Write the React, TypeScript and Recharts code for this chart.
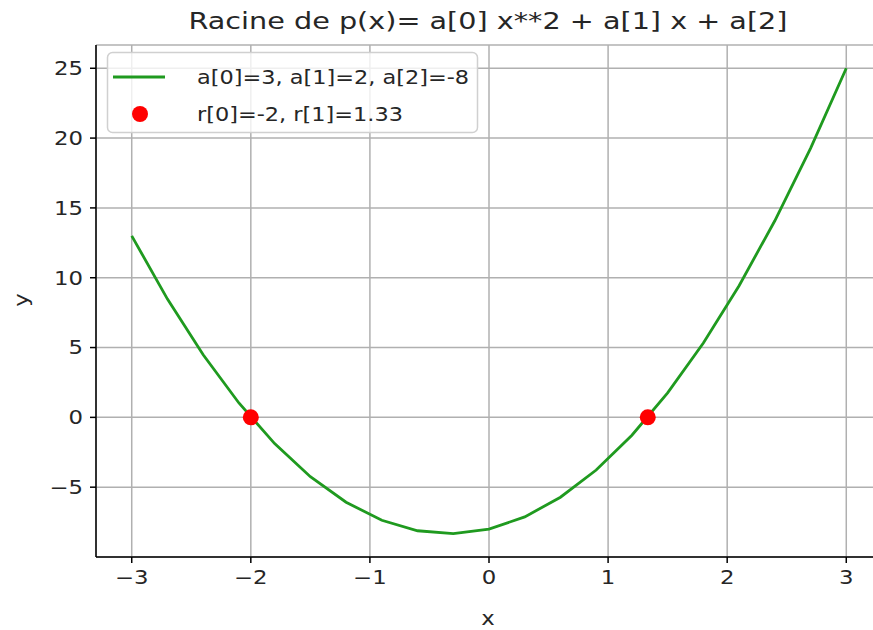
import React from "react";
import {
  ComposedChart,
  Line,
  Scatter,
  XAxis,
  YAxis,
  CartesianGrid,
} from "recharts";

// Sampled polynomial curve (21 samples from -3 to 3)
const xValues = [-3, -2.7, -2.4, -2.1, -1.8, -1.5, -1.2, -0.9, -0.6, -0.3, 0, 0.3, 0.6, 0.9, 1.2, 1.5, 1.8, 2.1, 2.4, 2.7, 3];
const yValues = [13, 8.47, 4.48, 1.03, -1.88, -4.25, -6.08, -7.37, -8.12, -8.33, -8, -7.13, -5.72, -3.77, -1.28, 1.75, 5.32, 9.43, 14.08, 19.27, 25];

// Roots of the polynomial
const rootX = [-2, 1.3333];
const rootY = [0, 0];

const xTicks = [-3, -2, -1, 0, 1, 2, 3];
const yTicks = [-5, 0, 5, 10, 15, 20, 25];

const titleText = "Racine de p(x)= a[0] x**2 + a[1] x + a[2]";
const curveLabel = "a[0]=3, a[1]=2, a[2]=-8";
const rootsLabel = "r[0]=-2, r[1]=1.33";

const curveData = xValues.map((x, i) => ({ x, y: yValues[i] }));
const rootData = rootX.map((x, i) => ({ x, y: rootY[i] }));

const FONT = "DejaVu Sans, sans-serif";
const TEXT = "#262626";
const GREEN = "#1f9a1f";
const STRETCH = 1.2;
const fmt = (v: number) => (v < 0 ? "\u2212" + Math.abs(v) : String(v));

// Horizontally widened text drawn at (x, y)
const WideText = ({ x, y, anchor, size, children, dy, sx }: any) => (
  <text
    transform={`translate(${x},${y}) scale(${sx ?? STRETCH},1)`}
    x={0}
    y={0}
    dy={dy}
    textAnchor={anchor}
    fontSize={size}
    fontFamily={FONT}
    fill={TEXT}
  >
    {children}
  </text>
);

const XTick = (props: any) => {
  const { x, y, payload } = props;
  return (
    <WideText x={x} y={y + 2} anchor="middle" size={19} dy="0.71em">
      {fmt(payload.value)}
    </WideText>
  );
};

const YTick = (props: any) => {
  const { x, y, payload } = props;
  return (
    <WideText x={x} y={y} anchor="end" size={19} dy="0.36em">
      {fmt(payload.value)}
    </WideText>
  );
};

const RootDot = (props: any) => {
  const { cx, cy } = props;
  return <circle cx={cx} cy={cy} r={8} fill="#ff0000" />;
};

export default function App() {
  return (
    <div
      style={{
        position: "absolute",
        left: 0,
        top: 0,
        width: 873,
        height: 630,
        overflow: "hidden",
        background: "#ffffff",
        fontFamily: FONT,
      }}
    >
      <ComposedChart
        width={900}
        height={630}
        margin={{ top: 45, right: 18, bottom: 33, left: 0 }}
        style={{ fontFamily: FONT }}
      >
        <CartesianGrid stroke="#b0b0b0" strokeWidth={1.5} />
        <XAxis
          dataKey="x"
          type="number"
          domain={[-3.3, 3.3]}
          ticks={xTicks}
          allowDataOverflow
          height={40}
          stroke="#000"
          strokeWidth={1.5}
          tickSize={6}
          tickMargin={6}
          tick={<XTick />}
        />
        <XAxis
          xAxisId="top"
          orientation="top"
          type="number"
          domain={[-3.3, 3.3]}
          height={0}
          tick={false}
          tickLine={false}
          stroke="#000"
          strokeWidth={1.5}
        />
        <YAxis
          dataKey="y"
          type="number"
          domain={[-10, 26.667]}
          ticks={yTicks}
          allowDataOverflow
          width={96}
          stroke="#000"
          strokeWidth={1.5}
          tickSize={6}
          tickMargin={7}
          tick={<YTick />}
        />
        <Line
          data={curveData}
          dataKey="y"
          type="linear"
          stroke={GREEN}
          strokeWidth={2.8}
          dot={false}
          activeDot={false}
          isAnimationActive={false}
        />
        <Scatter
          data={rootData}
          dataKey="y"
          fill="#ff0000"
          shape={RootDot}
          isAnimationActive={false}
        />
      </ComposedChart>

      {/* title, axis labels and legend */}
      <svg
        width={873}
        height={630}
        style={{ position: "absolute", left: 0, top: 0, pointerEvents: "none" }}
      >
        <WideText x={488} y={29} anchor="middle" size={23.5} sx={1.22}>
          {titleText}
        </WideText>
        <WideText x={488} y={625} anchor="middle" size={19}>
          x
        </WideText>
        <g transform="translate(28,300) rotate(-90)">
          <WideText x={0} y={0} anchor="middle" size={19}>
            y
          </WideText>
        </g>

        <rect
          x={107.5}
          y={52.5}
          width={370}
          height={80}
          rx={5}
          ry={5}
          fill="rgba(255,255,255,0.8)"
          stroke="#d0d0d0"
          strokeWidth={1.5}
        />
        <line x1={113} y1={77} x2={165} y2={77} stroke={GREEN} strokeWidth={3} />
        <WideText x={197} y={84} anchor="start" size={19} sx={1.18}>
          {curveLabel}
        </WideText>
        <circle cx={140} cy={114} r={8} fill="#ff0000" />
        <WideText x={197} y={121} anchor="start" size={19} sx={1.18}>
          {rootsLabel}
        </WideText>
      </svg>
    </div>
  );
}
